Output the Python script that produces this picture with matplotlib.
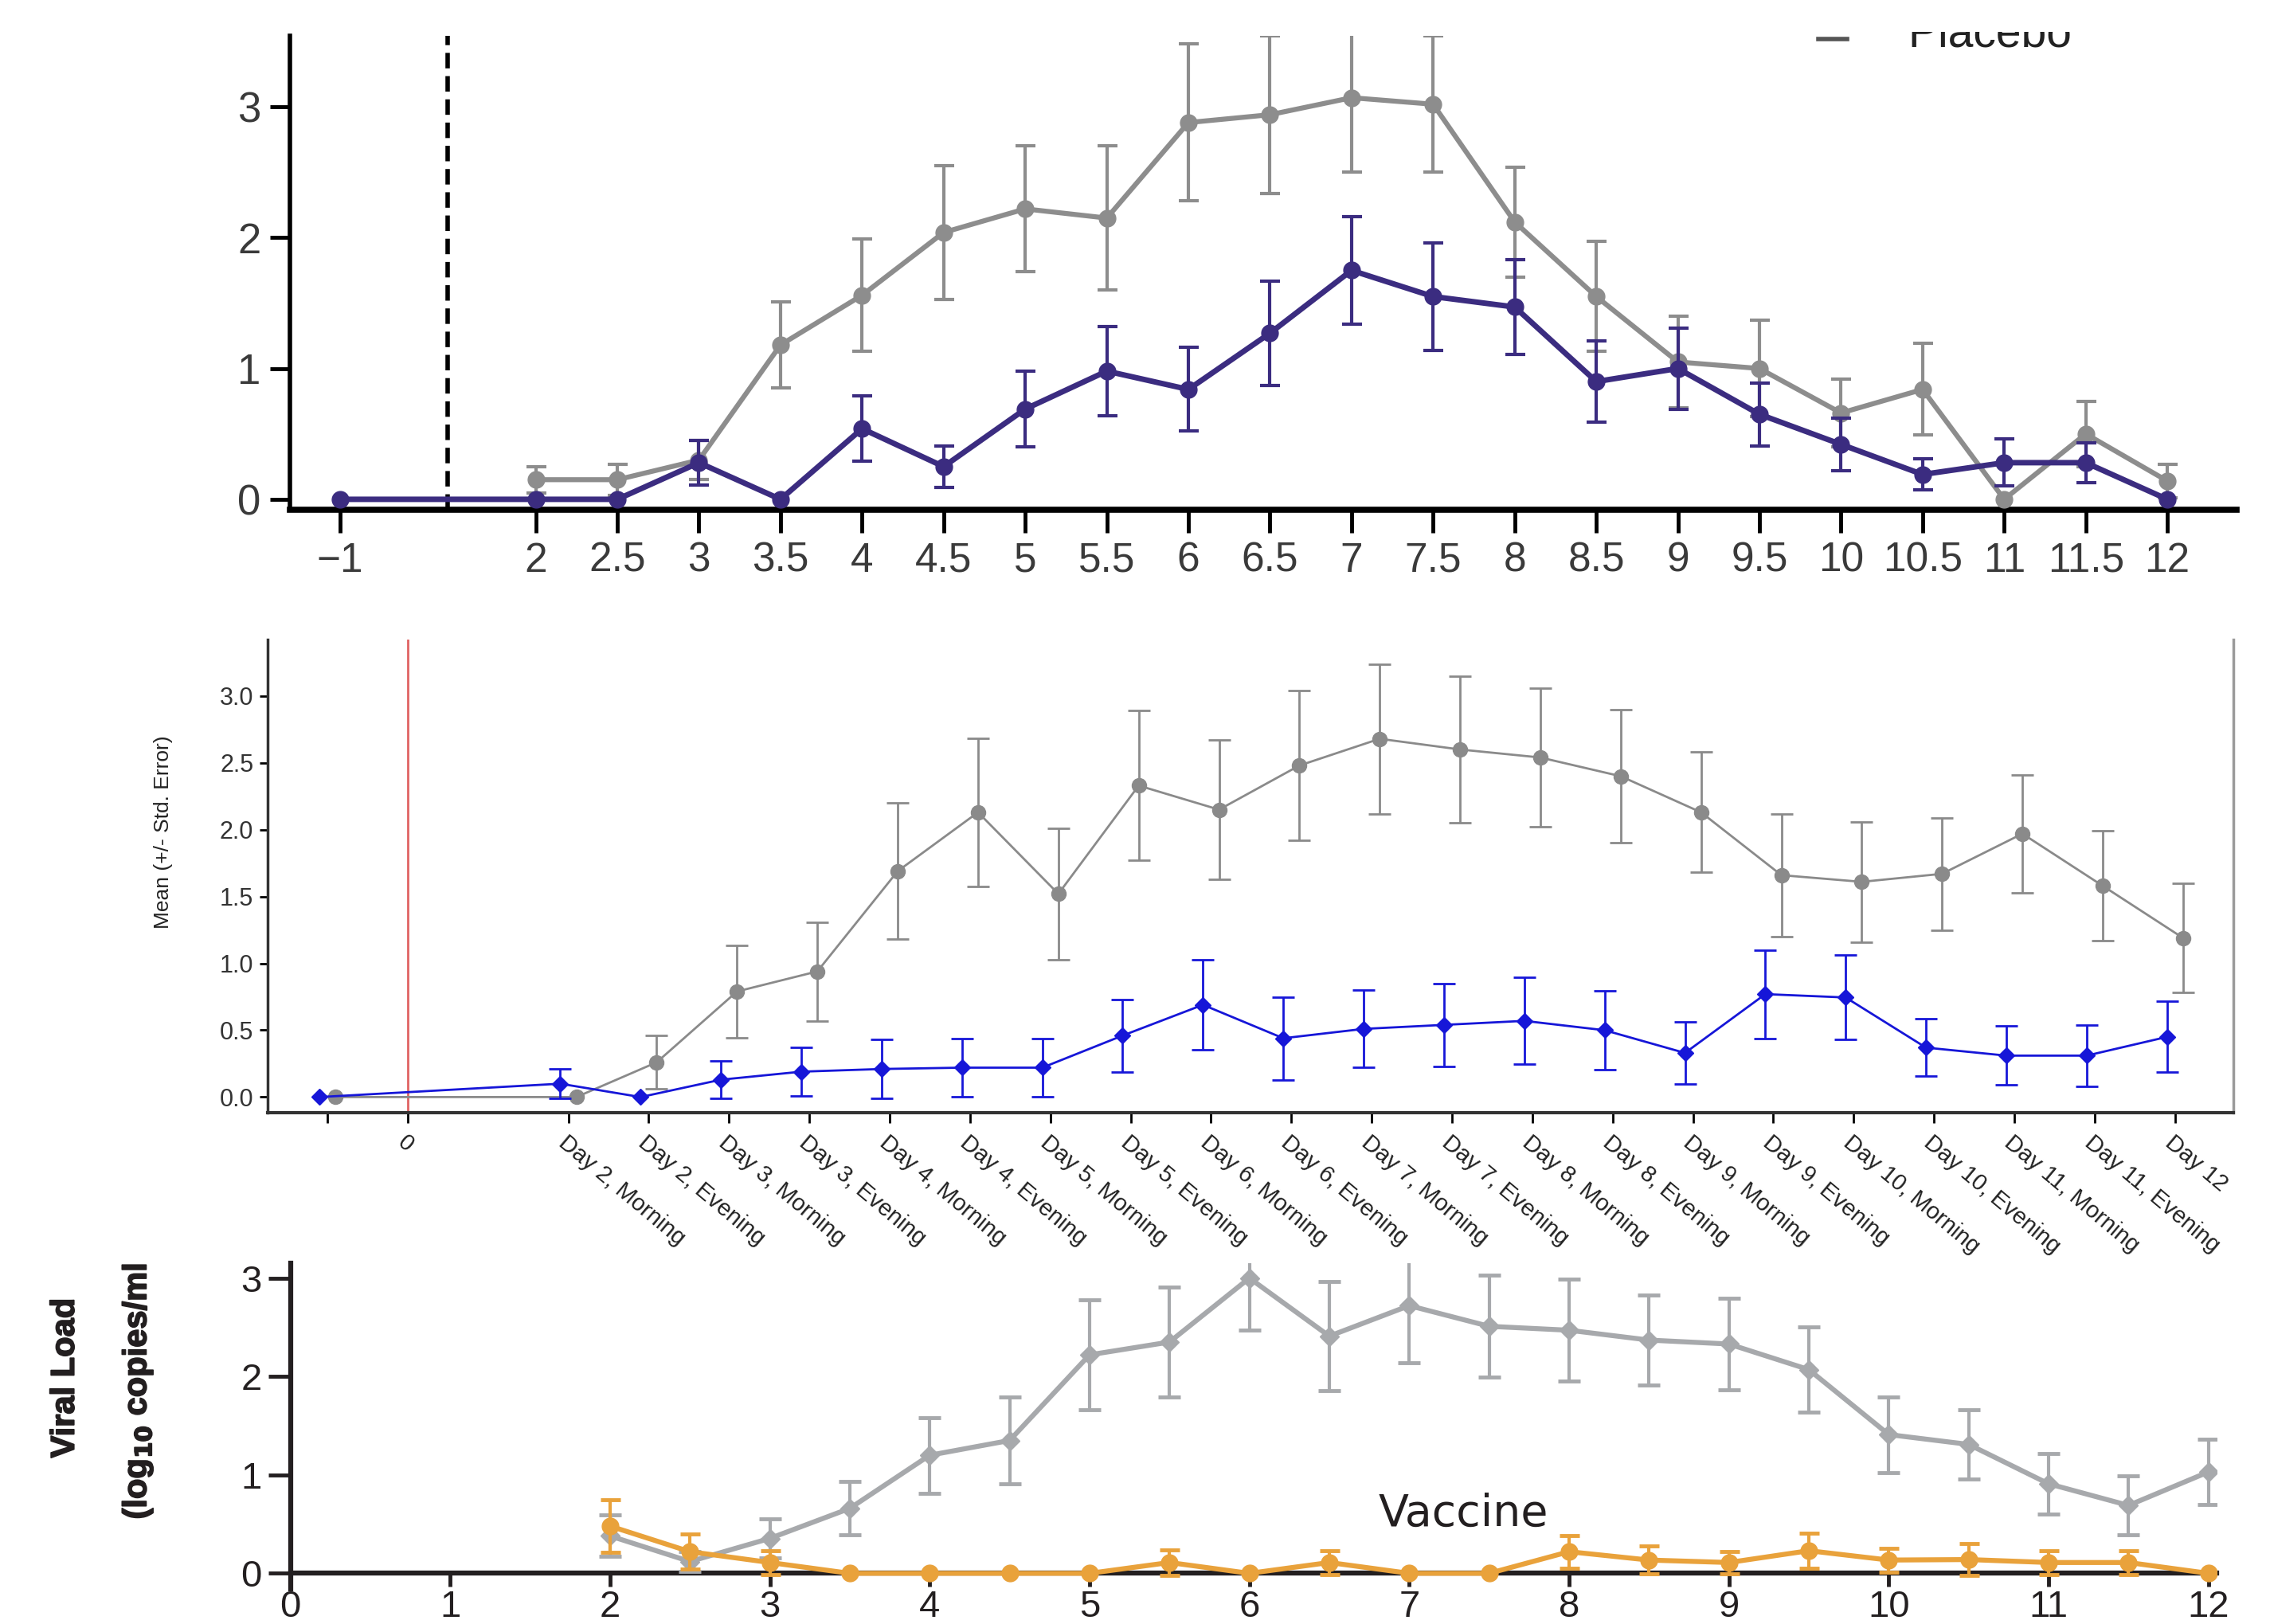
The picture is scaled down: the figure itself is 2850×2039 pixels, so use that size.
import matplotlib
matplotlib.use('Agg')
import matplotlib.pyplot as plt
from matplotlib import font_manager
from matplotlib import patheffects
from matplotlib.patches import Rectangle
from matplotlib.lines import Line2D

# top panel: vaccine (purple) and placebo (grey), days after challenge
top_days = [-1, 2, 2.5, 3, 3.5, 4, 4.5, 5, 5.5, 6, 6.5, 7, 7.5, 8, 8.5, 9, 9.5, 10, 10.5, 11, 11.5, 12]
top_vac = [0.0, 0.0, 0.0, 0.28, 0.0, 0.54, 0.25, 0.69, 0.98, 0.84, 1.27, 1.75, 1.55, 1.47, 0.90, 1.00,
           0.65, 0.42, 0.19, 0.28, 0.28, 0.0]
top_vac_err = [0, 0, 0, 0.17, 0, 0.25, 0.16, 0.29, 0.34, 0.32, 0.40, 0.41, 0.41, 0.36, 0.31, 0.31,
               0.24, 0.20, 0.12, 0.18, 0.15, 0]
top_pla_days = [2, 2.5, 3, 3.5, 4, 4.5, 5, 5.5, 6, 6.5, 7, 7.5, 8, 8.5, 9, 9.5, 10, 10.5, 11, 11.5, 12]
top_pla = [0.15, 0.15, 0.30, 1.18, 1.56, 2.04, 2.22, 2.15, 2.88, 2.94, 3.07, 3.02, 2.12, 1.55, 1.05,
           1.00, 0.66, 0.84, 0.0, 0.50, 0.14]
top_pla_err = [0.10, 0.12, 0.15, 0.33, 0.43, 0.51, 0.48, 0.55, 0.60, 0.60, 0.57, 0.52, 0.42, 0.42,
               0.35, 0.37, 0.26, 0.35, 0.0, 0.25, 0.13]

# middle panel: categorical time points
day_labels = ['Day 2, Morning', 'Day 2, Evening', 'Day 3, Morning', 'Day 3, Evening',
              'Day 4, Morning', 'Day 4, Evening', 'Day 5, Morning', 'Day 5, Evening',
              'Day 6, Morning', 'Day 6, Evening', 'Day 7, Morning', 'Day 7, Evening',
              'Day 8, Morning', 'Day 8, Evening', 'Day 9, Morning', 'Day 9, Evening',
              'Day 10, Morning', 'Day 10, Evening', 'Day 11, Morning', 'Day 11, Evening', 'Day 12']
mid_points = [''] + day_labels
mid_grey = [0.0, 0.0, 0.26, 0.79, 0.94, 1.69, 2.13, 1.52, 2.33, 2.15, 2.48, 2.68, 2.60, 2.54, 2.40,
            2.13, 1.66, 1.61, 1.67, 1.97, 1.58, 1.19]
mid_grey_err = [0, 0, 0.20, 0.345, 0.37, 0.51, 0.555, 0.49, 0.56, 0.52, 0.56, 0.56, 0.55, 0.52, 0.50,
                0.45, 0.46, 0.45, 0.42, 0.44, 0.41, 0.41]
mid_blue = [0.0, 0.10, 0.0, 0.13, 0.19, 0.21, 0.22, 0.22, 0.46, 0.69, 0.44, 0.51, 0.54, 0.57, 0.50,
            0.33, 0.77, 0.745, 0.37, 0.31, 0.31, 0.45]
mid_blue_err = [0, 0.11, 0, 0.14, 0.18, 0.22, 0.22, 0.22, 0.27, 0.335, 0.31, 0.29, 0.31, 0.325, 0.295,
                0.235, 0.33, 0.315, 0.215, 0.22, 0.23, 0.265]

# bottom panel
bot_days = [2, 2.5, 3, 3.5, 4, 4.5, 5, 5.5, 6, 6.5, 7, 7.5, 8, 8.5, 9, 9.5, 10, 10.5, 11, 11.5, 12]
bot_pla = [0.38, 0.12, 0.355, 0.66, 1.20, 1.35, 2.22, 2.35, 3.0, 2.41, 2.72, 2.51, 2.47, 2.37, 2.33,
           2.07, 1.41, 1.31, 0.91, 0.69, 1.03]
bot_pla_err = [0.21, 0.10, 0.20, 0.27, 0.385, 0.44, 0.56, 0.555, 0.53, 0.555, 0.58, 0.52, 0.52, 0.46,
               0.465, 0.43, 0.385, 0.355, 0.31, 0.30, 0.33]
bot_vac = [0.48, 0.22, 0.11, 0, 0, 0, 0, 0.11, 0, 0.11, 0, 0, 0.22, 0.135, 0.11, 0.23, 0.135, 0.14,
           0.11, 0.11, 0]
bot_vac_err = [0.265, 0.18, 0.12, 0, 0, 0, 0, 0.13, 0, 0.12, 0, 0, 0.165, 0.14, 0.115, 0.18, 0.12,
               0.16, 0.12, 0.12, 0]

names = {f.name for f in font_manager.fontManager.ttflist}
narrow = 'Liberation Sans Narrow' in names
bfam = ['Liberation Sans Narrow', 'DejaVu Sans'] if narrow else ['Liberation Sans', 'DejaVu Sans']
plt.rcParams['font.family'] = ['Liberation Sans', 'DejaVu Sans']


def err_only(ax, x, y, e, **kw):
    # draw bars only where there is an error, so no stray caps at zero
    xs = [a for a, b in zip(x, e) if b > 0]
    ys = [a for a, b in zip(y, e) if b > 0]
    es = [b for b in e if b > 0]
    ax.errorbar(xs, ys, yerr=es, fmt='none', **kw)


fig = plt.figure(figsize=(28.5, 20.39), dpi=100)

# ---------------- top ----------------
purple = '#3b2c80'
grey1 = '#8d8d8d'


def top_pos(d):
    return d if d >= 2 else 0.8  # axis is broken between -1 and 2


ax1 = fig.add_axes([0.1276, 0.6863, 0.8578, 0.2914])
ax1.axvline(1.46, color='k', lw=4, ls=(0, (3.5, 1.75)), zorder=1)
xp = [top_pos(d) for d in top_pla_days]
ax1.plot(xp, top_pla, '-o', color=grey1, lw=4.5, ms=15, zorder=3)
err_only(ax1, xp, top_pla, top_pla_err, ecolor=grey1, elinewidth=3, capsize=9, capthick=3, zorder=3)
xv = [top_pos(d) for d in top_days]
ax1.plot(xv, top_vac, '-o', color=purple, lw=5, ms=15, zorder=4)
err_only(ax1, xv, top_vac, top_vac_err, ecolor=purple, elinewidth=3, capsize=9, capthick=3, zorder=4)
ax1.set_xlim(0.4916, 12.426)
ax1.set_ylim(-0.0775, 3.54)
for s in ['top', 'right']:
    ax1.spines[s].set_visible(False)
ax1.spines['left'].set_linewidth(4)
ax1.spines['bottom'].set_linewidth(5.5)
ax1.set_yticks([0, 1, 2, 3])
ax1.set_xticks(xv)
ax1.set_xticklabels(['\u22121' if d < 0 else f'{d:g}' for d in top_days])
ax1.tick_params(axis='y', length=18, width=3.5, labelsize=38, labelcolor='#3a3a3a', pad=8)
ax1.tick_params(axis='x', length=21, width=3.5, labelsize=37, labelcolor='#3a3a3a', pad=8)

# partially visible legend at the very top
fig.text(1318 / 1568, 1 - 32 / 1122, 'Placebo', fontsize=41, color='#222222', va='baseline')
fig.add_artist(Line2D([1256 / 1568, 1276 / 1568], [1 - 27 / 1122] * 2, color='#555555', lw=4))
fig.add_artist(Rectangle((0.79, 1 - 22 / 1122), 0.21, 22 / 1122, transform=fig.transFigure,
                         facecolor='white', edgecolor='none', zorder=10))

# ---------------- middle ----------------
blue = '#1616d8'
grey2 = '#8a8a8a'


def mid_pos(label):
    return 0 if label == '' else (1 if label == '0' else 3 + day_labels.index(label))


ax2 = fig.add_axes([0.118, 0.315, 0.866, 0.291])
ax2.axvline(mid_pos('0'), color='#e06464', lw=2, zorder=1)
xm = [mid_pos(p) for p in mid_points]
xg = [x + 0.1 for x in xm]
xb = [x - 0.1 for x in xm]
ax2.plot(xg, mid_grey, '-o', color=grey2, lw=2, ms=13, zorder=3)
err_only(ax2, xg, mid_grey, mid_grey_err, ecolor=grey2, elinewidth=2, capsize=10, capthick=2, zorder=3)
ax2.plot(xb, mid_blue, '-D', color=blue, lw=2, ms=10, zorder=4)
err_only(ax2, xb, mid_blue, mid_blue_err, ecolor=blue, elinewidth=2, capsize=10, capthick=2, zorder=4)
ax2.set_xlim(-0.74, 23.73)
ax2.set_ylim(-0.115, 3.42)
ax2.spines['top'].set_visible(False)
ax2.spines['right'].set_color('#9a9a9a')
ax2.spines['right'].set_linewidth(2.5)
ax2.spines['left'].set_color('#333333')
ax2.spines['bottom'].set_color('#333333')
ax2.spines['left'].set_linewidth(2.5)
ax2.spines['bottom'].set_linewidth(3)
ax2.set_yticks([0, 0.5, 1, 1.5, 2, 2.5, 3])
ax2.set_yticklabels([f'{v:.1f}' for v in [0, 0.5, 1, 1.5, 2, 2.5, 3]])
tick_labels = ['', '0'] + day_labels
ax2.set_xticks([mid_pos(t) for t in tick_labels])
ax2.set_xticklabels(tick_labels, rotation=-40, ha='left', va='top', rotation_mode='anchor')
ax2.tick_params(axis='y', length=7, width=2, labelsize=22, labelcolor='#333333', pad=6)
ax2.tick_params(axis='x', length=9, width=2, labelsize=21, labelcolor='#222222', pad=8)
fig.text(113 / 1568, 1 - 575 / 1122, 'Mean (+/- Std. Error)', rotation=90, fontsize=19,
         ha='center', va='center', color='#222222')

# ---------------- bottom ----------------
grey3 = '#a7a9ac'
orange = '#e9a23b'
ink = '#231f20'
ax3 = fig.add_axes([0.1279, 0.0215, 0.8485, 0.2006])
ax3.plot(bot_days, bot_pla, '-D', color=grey3, lw=4.5, ms=12, zorder=3)
err_only(ax3, bot_days, bot_pla, bot_pla_err, ecolor=grey3, elinewidth=3, capsize=10, capthick=3.5,
         zorder=3)
ax3.plot(bot_days, bot_vac, '-o', color=orange, lw=4.5, ms=15, zorder=5)
err_only(ax3, bot_days, bot_vac, bot_vac_err, ecolor=orange, elinewidth=3, capsize=9, capthick=3.5,
         zorder=5)
ax3.text(7.34, 0.6, 'Vaccine', ha='center', va='center', fontsize=40, color=ink,
         family=['DejaVu Sans'])
ax3.set_xlim(0, 12.05)
ax3.set_ylim(-0.16, 3.15)
ax3.spines['bottom'].set_position(('data', 0))
for s in ['top', 'right']:
    ax3.spines[s].set_visible(False)
for s in ['left', 'bottom']:
    ax3.spines[s].set_linewidth(4.5)
    ax3.spines[s].set_color(ink)
ax3.set_xticks(range(0, 13))
ax3.set_yticks([0, 1, 2, 3])
bsize = 38 if narrow else 34
for lab in ax3.get_xticklabels() + ax3.get_yticklabels():
    lab.set_family(bfam)
ax3.tick_params(axis='both', width=3.5, color=ink, labelsize=bsize, labelcolor=ink)
ax3.tick_params(axis='x', length=12, pad=3)
ax3.tick_params(axis='y', length=20, pad=6)
lsize = 36 if narrow else 30
heavy = [patheffects.withStroke(linewidth=1.2, foreground=ink)]
fig.text(0.0287, 1 - 952 / 1122, 'Viral Load', rotation=90, ha='center', va='center',
         fontsize=lsize, fontweight='bold', family=bfam, color=ink, path_effects=heavy)
fig.text(0.0606, 1 - 873 / 1122, '(log$_{\\mathbf{10}}$ copies/ml', rotation=90, ha='center', va='top',
         fontsize=lsize, fontweight='bold', family=bfam, color=ink, path_effects=heavy)

fig.savefig('out.png', dpi=100, facecolor='white')
